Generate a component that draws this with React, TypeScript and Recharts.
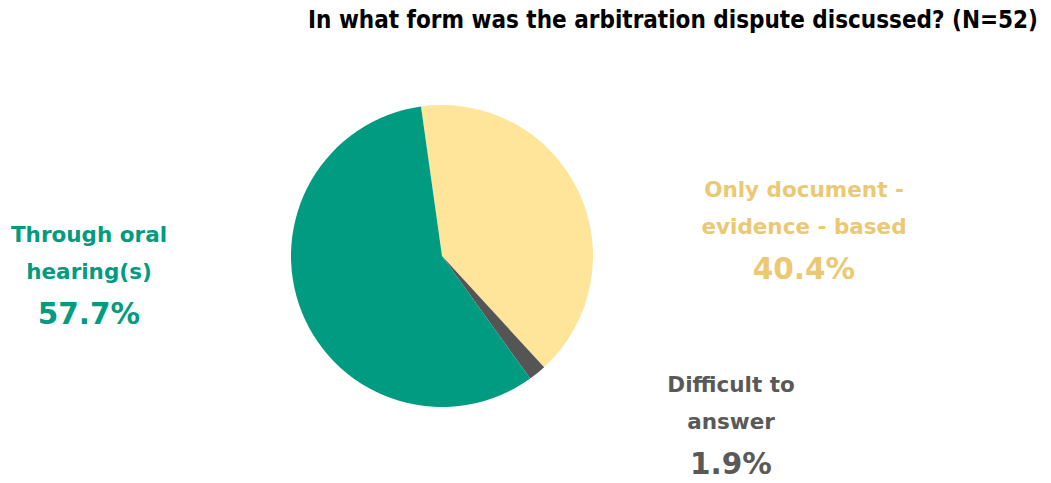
import { PieChart, Pie, Cell } from 'recharts';

const categories = ['Only document - evidence - based', 'Difficult to answer', 'Through oral hearing(s)'];
const labelLines = [['Only document -', 'evidence - based'], ['Difficult to', 'answer'], ['Through oral', 'hearing(s)']];
const shares = [40.4, 1.9, 57.7];
const sliceColors = ['#FFE599', '#555555', '#009B80'];
const textColors = ['#EBC873', '#595959', '#009B80'];

// label placement relative to pie centre (px): x of centre, y of first baseline
const labelOffsets = [
  { dx: 362, dy: -59 },
  { dx: 289, dy: 136 },
  { dx: -353, dy: -14 },
];

const data = categories.map((name, i) => ({ name, value: shares[i] }));

const FONT = '"DejaVu Sans", sans-serif';

function renderLabel(props: any) {
  const { cx, cy, index } = props;
  const off = labelOffsets[index];
  const x = cx + off.dx;
  const y = cy + off.dy;
  const color = textColors[index];
  const lines = labelLines[index];
  return (
    <text x={x} y={y} textAnchor="middle" fill={color} fontFamily={FONT} fontWeight="bold">
      <tspan x={x} y={y} fontSize={21.5}>{lines[0]}</tspan>
      <tspan x={x} y={y + 37} fontSize={21.5}>{lines[1]}</tspan>
      <tspan x={x} y={y + 82} fontSize={29.5}>{shares[index].toFixed(1)}%</tspan>
    </text>
  );
}

export default function App() {
  return (
    <div style={{ position: 'absolute', left: 0, top: 0, width: 1051, height: 483, background: '#fff' }}>
      <div
        style={{
          position: 'absolute',
          right: 13,
          top: 4,
          fontFamily: FONT,
          fontWeight: 'bold',
          fontSize: 24,
          fontStretch: 'condensed',
          lineHeight: '32px',
          color: '#000',
          whiteSpace: 'nowrap',
        }}
      >
        In what form was the arbitration dispute discussed? (N=52)
      </div>
      <PieChart width={1051} height={483} margin={{ top: 0, right: 0, bottom: 0, left: 0 }}>
        <Pie
          data={data}
          dataKey="value"
          nameKey="name"
          cx={442}
          cy={256}
          outerRadius={151}
          startAngle={98}
          endAngle={-262}
          stroke="none"
          label={renderLabel}
          labelLine={false}
          isAnimationActive={false}
        >
          {data.map((d, i) => (
            <Cell key={d.name} fill={sliceColors[i]} />
          ))}
        </Pie>
      </PieChart>
    </div>
  );
}
